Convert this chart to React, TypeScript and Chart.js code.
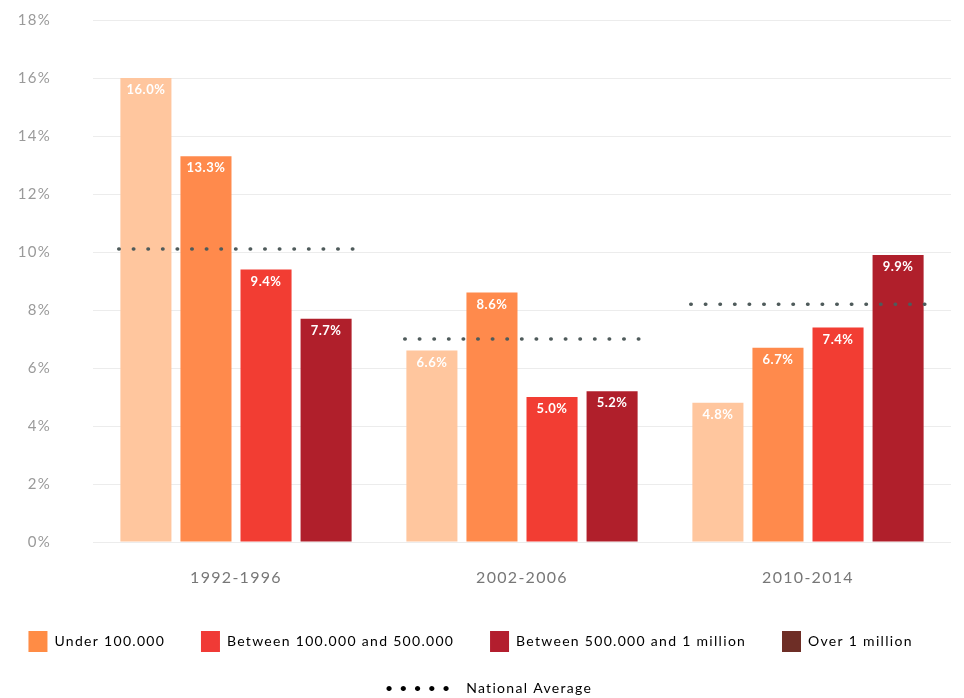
import React, { useEffect, useRef } from 'react';
import { Chart, registerables } from 'chart.js';

Chart.register(...registerables);

const categories = ['1992-1996', '2002-2006', '2010-2014'];
const seriesNames = [
  'Under 100.000',
  'Between 100.000 and 500.000',
  'Between 500.000 and 1 million',
  'Over 1 million',
];
const under100k = [16.0, 6.6, 4.8];
const between100k500k = [13.3, 8.6, 6.7];
const between500k1m = [9.4, 5.0, 7.4];
const over1m = [7.7, 5.2, 9.9];
const nationalAverage = [10.1, 7.0, 8.2];
const averageLabel = 'National Average';
const yTickValues = [0, 2, 4, 6, 8, 10, 12, 14, 16, 18];

const barColors = ['#FFC69E', '#FF8A4C', '#F23D33', '#B01F2B'];
const legendSwatches = ['#FF8C45', '#F03A36', '#B31E2E', '#6E2E26'];
const avgColor = '#4F5B5B';
const AVG_HALF_SPAN = 0.41;

const spacingPlugin = {
  id: 'letterSpacing',
  beforeUpdate(chart: any) {
    chart.ctx.letterSpacing = '1.3px';
  },
  beforeDraw(chart: any) {
    chart.ctx.letterSpacing = '1.3px';
  },
};

const barLabelPlugin = {
  id: 'barLabels',
  afterDatasetsDraw(chart: any) {
    const ctx = chart.ctx;
    chart.data.datasets.forEach((ds: any, di: number) => {
      if (ds.type !== 'bar') return;
      const meta = chart.getDatasetMeta(di);
      meta.data.forEach((el: any, i: number) => {
        const v = ds.data[i].y as number;
        ctx.save();
        ctx.letterSpacing = '0.5px';
        ctx.fillStyle = '#ffffff';
        ctx.font = 'bold 13px Lato';
        ctx.textAlign = 'center';
        ctx.textBaseline = 'middle';
        ctx.fillText(v.toFixed(1) + '%', el.x, el.y + 12);
        ctx.restore();
      });
    });
  },
};

export default function App() {
  const ref = useRef<HTMLCanvasElement>(null);

  useEffect(() => {
    if (!ref.current) return;
    const seriesValues = [under100k, between100k500k, between500k1m, over1m];
    const barDatasets: any[] = seriesValues.map((vals, i) => ({
      type: 'bar',
      label: seriesNames[i],
      data: vals.map((v, ci) => ({ x: ci, y: v })),
      backgroundColor: barColors[i],
      barPercentage: 0.85,
      categoryPercentage: 0.84,
      order: 1,
    }));
    const avgData: any[] = [];
    nationalAverage.forEach((v, i) => {
      avgData.push({ x: i - AVG_HALF_SPAN, y: v }, { x: i + AVG_HALF_SPAN, y: v }, { x: i + 0.5, y: null });
    });
    const avgDataset: any = {
      type: 'line',
      label: averageLabel,
      data: avgData,
      borderColor: avgColor,
      borderWidth: 3.5,
      borderDash: [0.5, 14.1],
      borderCapStyle: 'round',
      pointRadius: 0,
      spanGaps: false,
      fill: false,
      order: 0,
    };

    const chart = new Chart(ref.current, {
      type: 'bar',
      data: {
        datasets: [...barDatasets, avgDataset],
      },
      plugins: [spacingPlugin, barLabelPlugin],
      options: {
        animation: false,
        responsive: true,
        maintainAspectRatio: false,
        layout: { padding: { top: 20, right: 13, left: 0, bottom: -11 } },
        scales: {
          x: {
            type: 'linear',
            position: 'bottom',
            min: -0.5,
            max: 2.5,
            offset: false,
            grid: { display: false, offset: false, drawTicks: false },
            border: { display: false },
            afterBuildTicks: (scale: any) => {
              scale.ticks = categories.map((_, i) => ({ value: i }));
            },
            afterFit: (scale: any) => {
              scale.height = 63;
            },
            ticks: {
              color: '#777777',
              padding: 26,
              autoSkip: false,
              maxRotation: 0,
              font: { family: 'Lato', size: 16 },
              callback: (v: any) => categories[v],
            },
          },
          y: {
            type: 'linear',
            position: 'left',
            min: 0,
            max: 18,
            afterFit: (scale: any) => {
              scale.width = 93;
              scale.paddingTop = 0;
              scale.paddingBottom = 0;
            },
            afterBuildTicks: (scale: any) => {
              scale.ticks = yTickValues.map((v) => ({ value: v }));
            },
            grid: { color: '#ececec', lineWidth: 1, drawTicks: false },
            border: { display: false },
            ticks: {
              color: '#9a9a9a',
              padding: 42,
              font: { family: 'Lato', size: 15 },
              callback: (v: any) => v + '%',
            },
          },
        },
        plugins: {
          tooltip: { enabled: false },
          legend: {
            position: 'bottom',
            onClick: () => {},
            labels: {
              boxWidth: 19,
              boxHeight: 21,
              padding: 26,
              color: '#8a8a8a',
              font: { family: 'Lato', size: 14 },
              generateLabels: () => [
                ...seriesNames.map((n, i) => ({
                  text: n + '  ',
                  fillStyle: legendSwatches[i],
                  strokeStyle: legendSwatches[i],
                  lineWidth: 0,
                  hidden: false,
                  datasetIndex: i,
                })),
                {
                  text: '• • • • •   ' + averageLabel,
                  fillStyle: 'rgba(0,0,0,0)',
                  strokeStyle: 'rgba(0,0,0,0)',
                  lineWidth: 0,
                  hidden: false,
                  datasetIndex: 4,
                },
              ],
            },
          },
        },
      } as any,
    } as any);

    return () => chart.destroy();
  }, []);

  return (
    <div style={{ position: 'fixed', left: 0, top: 0, width: 964, height: 698, background: '#ffffff' }}>
      <canvas ref={ref} />
    </div>
  );
}
